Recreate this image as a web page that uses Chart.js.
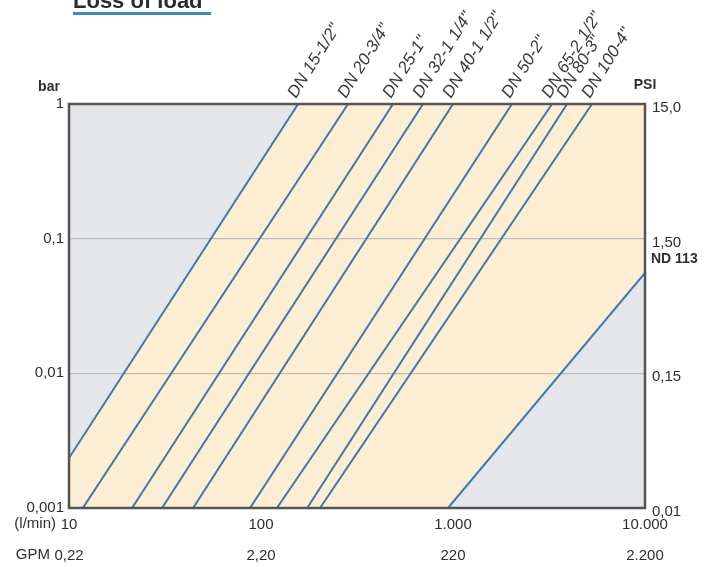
<!DOCTYPE html>
<html>
<head>
<meta charset="utf-8">
<script src="https://cdn.jsdelivr.net/npm/chart.js@4.4.1/dist/chart.umd.min.js"></script>
<style>
  html, body { margin: 0; padding: 0; background: #ffffff; }
  #wrap { width: 714px; height: 567px; position: relative; }
</style>
</head>
<body>
<div id="wrap"><canvas id="c" width="714" height="567"></canvas></div>
<script>
// ---- data ----
const lineNames = ['DN 15-1/2"', 'DN 20-3/4"', 'DN 25-1"', 'DN 32-1 1/4"', 'DN 40-1 1/2"', 'DN 50-2"', 'DN 65-2 1/2"', 'DN 80-3"', 'DN 100-4"', 'ND 113'];
const startFlow = [10, 11.8, 21.3, 30.5, 44.3, 87.7, 121, 174, 203, 942];     // l/min
const startLoss = [0.00235, 0.001, 0.001, 0.001, 0.001, 0.001, 0.001, 0.001, 0.001, 0.001]; // bar
const endFlow   = [156, 284, 487, 698, 1000, 2028, 3281, 3926, 5297, 10000];  // l/min
const endLoss   = [1, 1, 1, 1, 1, 1, 1, 1, 1, 0.0556];                        // bar

const flowTicks  = [10, 100, 1000, 10000];
const flowLabels = ['10', '100', '1.000', '10.000'];
const gpmLabels  = ['0,22', '2,20', '220', '2.200'];
const barTicks   = [0.001, 0.01, 0.1, 1];
const barLabels  = ['0,001', '0,01', '0,1', '1'];
const psiLabels  = ['0,01', '0,15', '1,50', '15,0'];

const FONT = "'Liberation Sans', Arial, sans-serif";
const TXT = '#2e2e2e';
const LINE = '#3c79ac';

function labelFor(ticksArr, labels, v) {
  for (let i = 0; i < ticksArr.length; i++) {
    if (Math.abs(Math.log10(v) - Math.log10(ticksArr[i])) < 1e-6) return labels[i];
  }
  return '';
}

const datasets = lineNames.map((n, i) => ({
  label: n,
  data: [{x: startFlow[i], y: startLoss[i]}, {x: endFlow[i], y: endLoss[i]}],
  showLine: true,
  borderColor: LINE,
  borderWidth: 2,
  pointRadius: 0,
  fill: false
}));

const bgPlugin = {
  id: 'bg',
  beforeDraw(chart) {
    const {ctx, chartArea: a, scales} = chart;
    const xs = scales.x, ys = scales.y;
    ctx.save();
    ctx.fillStyle = '#e5e6ea';
    ctx.fillRect(a.left, a.top, a.right - a.left, a.bottom - a.top);
    // cream band between the first and last curve
    const f = 0, l = lineNames.length - 1;
    const poly = [
      [startFlow[f], startLoss[f]], [endFlow[f], endLoss[f]],
      [xs.max, ys.max], [endFlow[l], endLoss[l]],
      [startFlow[l], startLoss[l]], [xs.min, ys.min]
    ];
    ctx.beginPath();
    poly.forEach((p, k) => {
      const px = xs.getPixelForValue(p[0]), py = ys.getPixelForValue(p[1]);
      if (k === 0) ctx.moveTo(px, py); else ctx.lineTo(px, py);
    });
    ctx.closePath();
    ctx.fillStyle = '#fdeed3';
    ctx.fill();
    ctx.restore();
  },
  afterDatasetsDraw(chart) {
    const {ctx, chartArea: a, scales} = chart;
    const xs = scales.x, ys = scales.y;
    ctx.save();
    // frame
    ctx.strokeStyle = '#555555';
    ctx.lineWidth = 2.5;
    ctx.strokeRect(a.left, a.top, a.right - a.left, a.bottom - a.top);
    // line names
    ctx.fillStyle = '#3a3a3a';
    ctx.font = "italic 17px " + FONT;
    ctx.textAlign = 'left';
    ctx.textBaseline = 'alphabetic';
    for (let i = 0; i < lineNames.length - 1; i++) {
      const px = xs.getPixelForValue(endFlow[i]);
      ctx.save();
      ctx.translate(px - 2, a.top - 5);
      ctx.rotate(-58 * Math.PI / 180);
      ctx.fillText(lineNames[i], 0, 0);
      ctx.restore();
    }
    // unit captions
    ctx.fillStyle = TXT;
    ctx.font = "bold 14px " + FONT;
    ctx.textAlign = 'center';
    ctx.textBaseline = 'middle';
    ctx.fillText('bar', 49, a.top - 17);
    ctx.fillText('PSI', a.right, a.top - 19);
    ctx.textAlign = 'left';
    ctx.fillText(lineNames[lineNames.length - 1], a.right + 6, ys.getPixelForValue(0.1) + 20);
    ctx.font = "15px " + FONT;
    ctx.textAlign = 'right';
    ctx.fillText('(l/min)', 56, 524);
    ctx.fillText('GPM', 50, 555);
    // title
    ctx.textAlign = 'left';
    ctx.textBaseline = 'alphabetic';
    ctx.font = "bold 22px " + FONT;
    ctx.fillStyle = '#2b2b2b';
    ctx.fillText('Loss of load', 73, 8);
    ctx.fillStyle = '#4a86c0';
    ctx.fillRect(73, 12, 138, 3);
    ctx.restore();
  }
};

const tickFont = { family: FONT, size: 15 };

new Chart(document.getElementById('c'), {
  type: 'scatter',
  data: { datasets },
  options: {
    responsive: false,
    animation: false,
    layout: { padding: { top: 104, left: 0, right: 0, bottom: 0 } },
    plugins: { legend: { display: false }, tooltip: { enabled: false } },
    scales: {
      x: {
        type: 'logarithmic', position: 'bottom', min: 10, max: 10000,
        afterBuildTicks: s => { s.ticks = flowTicks.map(v => ({value: v})); },
        afterFit: s => { s.height = 32; },
        grid: { display: false, drawTicks: false },
        border: { display: false },
        ticks: { padding: 8, color: TXT, font: tickFont, maxRotation: 0, autoSkip: false,
                 callback: v => labelFor(flowTicks, flowLabels, v) }
      },
      x2: {
        type: 'logarithmic', position: 'bottom', min: 10, max: 10000,
        afterBuildTicks: s => { s.ticks = flowTicks.map(v => ({value: v})); },
        afterFit: s => { s.height = 27; },
        grid: { display: false, drawTicks: false },
        border: { display: false },
        ticks: { padding: 7, color: TXT, font: tickFont, maxRotation: 0, autoSkip: false,
                 callback: v => labelFor(flowTicks, gpmLabels, v) }
      },
      y: {
        type: 'logarithmic', position: 'left', min: 0.001, max: 1,
        afterBuildTicks: s => { s.ticks = barTicks.map(v => ({value: v})); },
        afterFit: s => { s.width = 69; },
        grid: { drawTicks: false, lineWidth: 1.2,
                color: c => (c.tick && (c.tick.value === 0.1 || c.tick.value === 0.01)) ? '#bdbdbd' : 'rgba(0,0,0,0)' },
        border: { display: false },
        ticks: { padding: 5, color: TXT, font: tickFont, autoSkip: false,
                 callback: v => labelFor(barTicks, barLabels, v) }
      },
      y2: {
        type: 'logarithmic', position: 'right', min: 0.001, max: 1,
        afterBuildTicks: s => { s.ticks = barTicks.map(v => ({value: v})); },
        afterFit: s => { s.width = 69; },
        grid: { display: false, drawTicks: false },
        border: { display: false },
        ticks: { padding: 7, color: TXT, font: tickFont, autoSkip: false, labelOffset: 4,
                 callback: v => labelFor(barTicks, psiLabels, v) }
      }
    }
  },
  plugins: [bgPlugin]
});
</script>
</body>
</html>
